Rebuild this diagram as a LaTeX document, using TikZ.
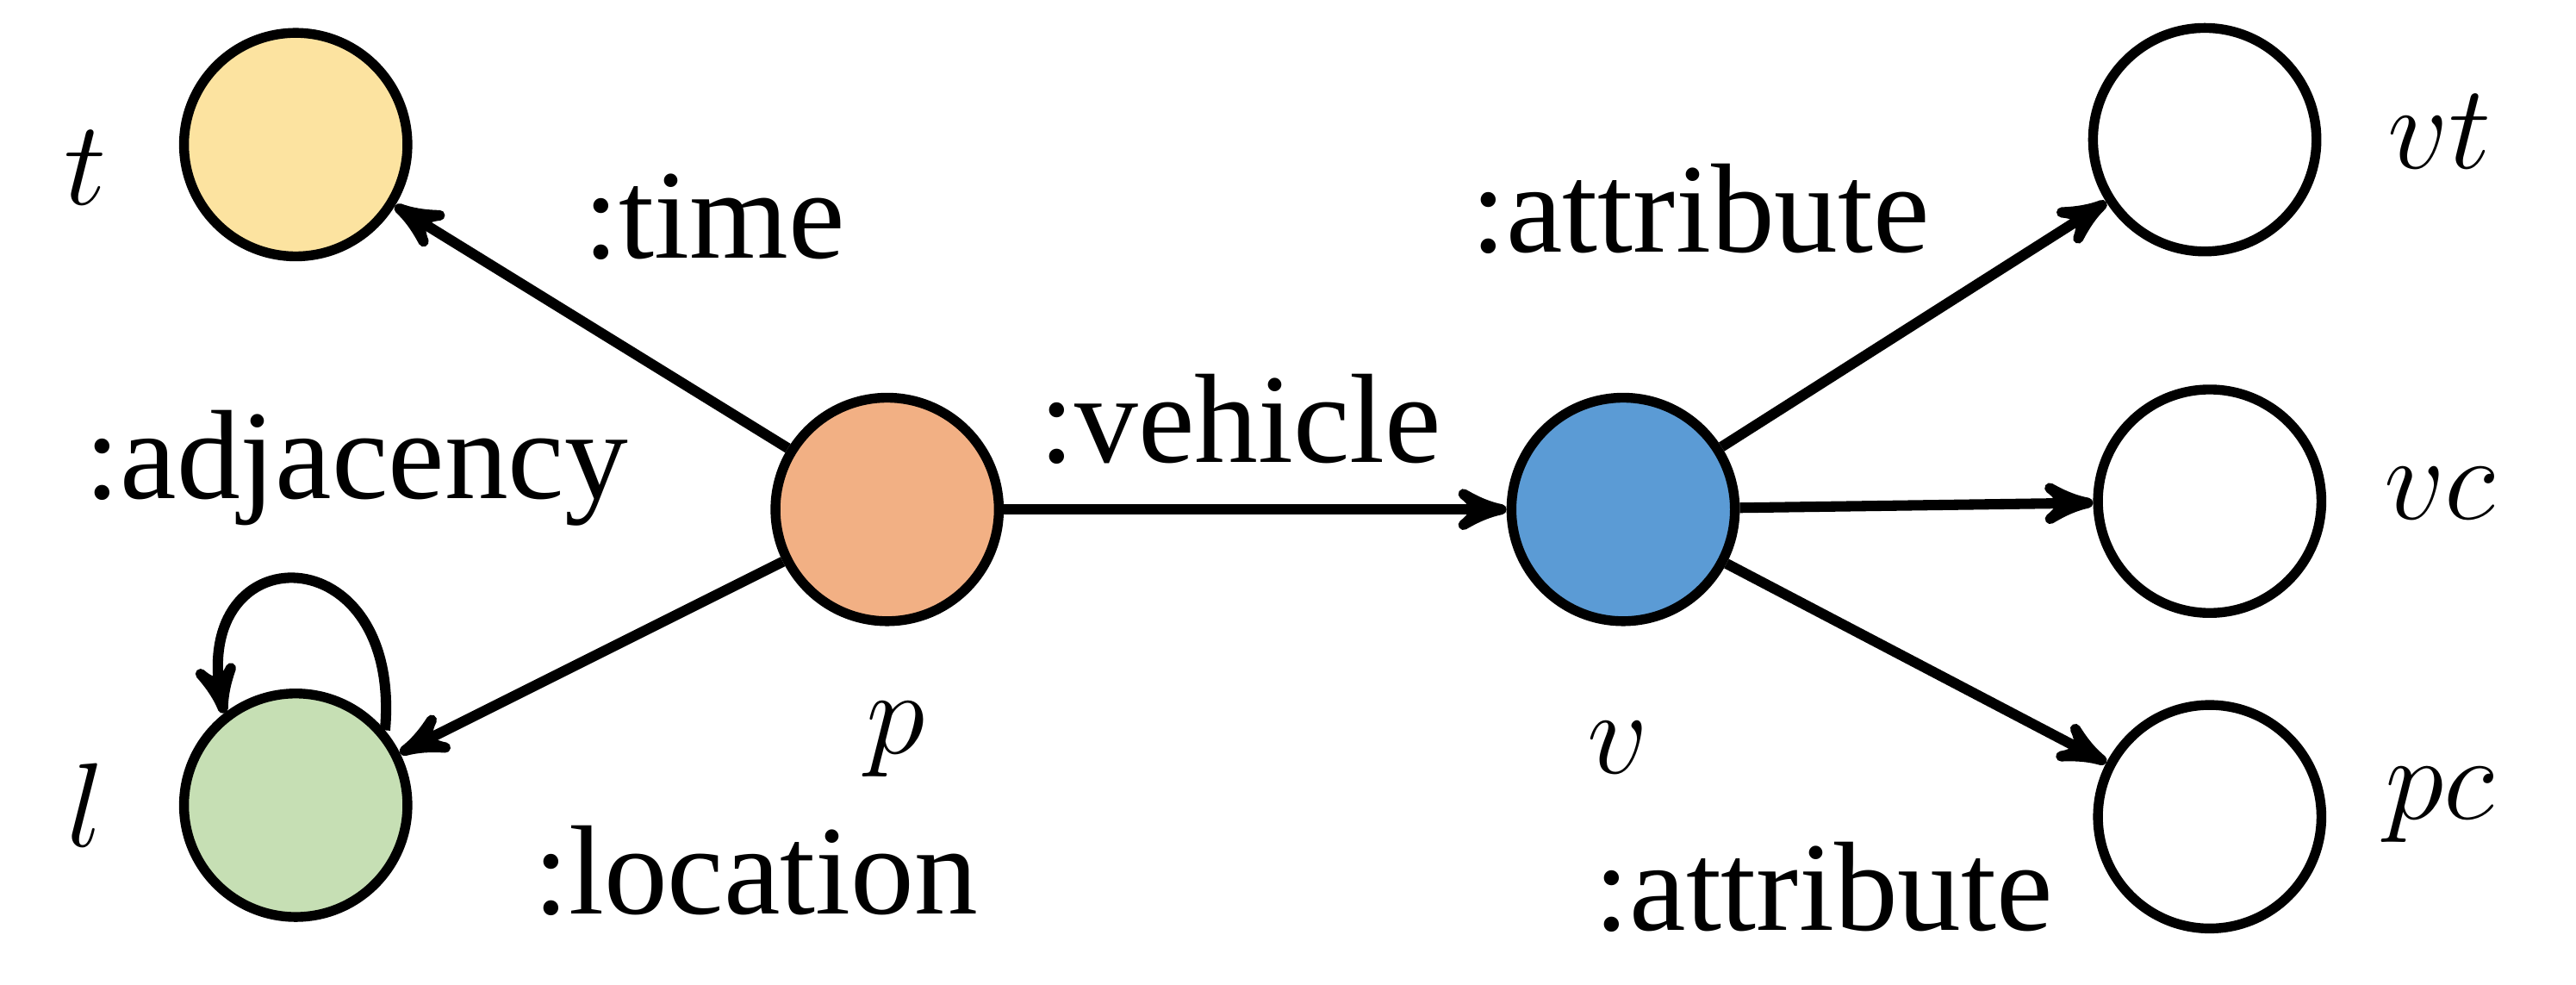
\documentclass[tikz,border=0pt]{standalone}
\usepackage{amsmath}
\usepackage{fontspec}
\setmainfont{Liberation Serif}
\usetikzlibrary{arrows}

\definecolor{timeclr}{HTML}{FCE3A0}
\definecolor{locclr}{HTML}{C6DFB4}
\definecolor{pclr}{HTML}{F2B084}
\definecolor{vclr}{HTML}{5B9BD5}

\tikzset{
    state/.style={circle, draw, line width=1.7pt, minimum size=1.36cm, inner sep=0pt},
    lbl/.style={font=\fontsize{22}{26}\selectfont, inner sep=0pt}
}

\begin{document}
\begin{tikzpicture}[>=stealth',line width=1.8pt,auto]
            \useasboundingbox (0,0) rectangle (15.68,5.99);
            \node[state, fill=timeclr] (T) at (1.80,5.11) {};
            \node[state, fill=locclr] (L) at (1.80,1.09) {};
            \node[state, fill=pclr] (P) at (5.40,2.89) {};
            \node[state, fill=vclr] (V) at (9.88,2.89) {};
            \node[state] (VT) at (13.42,5.14) {};
            \node[state] (VC) at (13.45,2.94) {};
            \node[state] (PC) at (13.45,1.02) {};

            \node[lbl] (tl) at (0.52,4.97) {$t$};
            \node[lbl] (ll) at (0.52,1.09) {$l$};
            \node[lbl] (pl) at (5.45,1.49) {$p$};
            \node[lbl] (vl) at (9.85,1.44) {$v$};
            \node[lbl] (vtl) at (14.85,5.19) {$vt$};
            \node[lbl] (vcl) at (14.85,2.99) {$vc$};
            \node[lbl] (pcl) at (14.85,1.09) {$pc$};

            \node[lbl] at (4.35,4.67) {:time};
            \node[lbl] at (2.17,3.14) {:adjacency};
            \node[lbl] at (7.55,3.44) {:vehicle};
            \node[lbl] at (4.60,0.69) {:location};
            \node[lbl] at (10.35,4.72) {:attribute};
            \node[lbl] at (11.10,0.59) {:attribute};

            \path[->]
                (P) edge (T)
                    edge (L)
                    edge (V)
                (V) edge (VT)
                    edge (VC)
                    edge (PC)
                   ;
            \draw[->] (L.40) .. controls (2.45,2.75) and (1.15,2.75) .. (L.128);
        \end{tikzpicture}
\end{document}
